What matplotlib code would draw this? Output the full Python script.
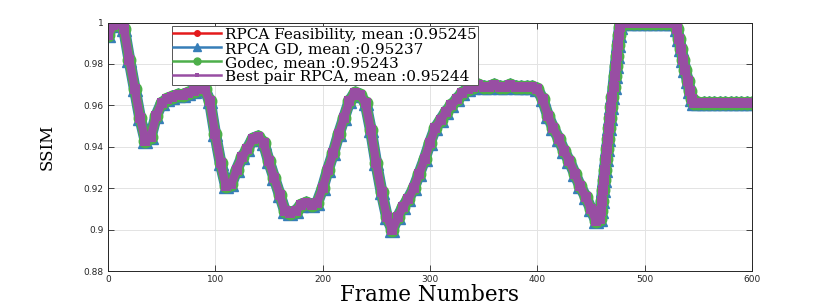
import numpy as np
import matplotlib
matplotlib.use('Agg')
import matplotlib.pyplot as plt

frames = [0, 5, 10, 15, 20, 25, 30, 35, 40, 45, 50, 55, 60, 65, 70, 75, 80, 85, 90, 95,
          100, 105, 110, 115, 120, 125, 130, 135, 140, 145, 150, 155, 160, 165, 170, 175,
          180, 185, 190, 195, 200, 205, 210, 215, 220, 225, 230, 235, 240, 245, 250, 255,
          260, 265, 270, 275, 280, 285, 290, 295, 300, 305, 310, 315, 320, 325, 330, 335,
          340, 345, 350, 355, 360, 365, 370, 375, 380, 385, 390, 395, 400, 405, 410, 415,
          420, 425, 430, 435, 440, 445, 450, 455,
          458, 459, 460, 461, 462, 463, 464, 465, 466, 467, 468, 469, 470, 471, 472, 473,
          474, 475, 476, 477, 478,
          485, 490, 495, 500, 505, 510, 515, 520, 525,
          528, 530, 532, 534, 536, 538, 540, 542, 544, 546,
          550, 555, 560, 565, 570, 575, 580, 585, 590, 595, 600]

ssim = [0.994, 0.999, 1.000, 0.997, 0.982, 0.968, 0.954, 0.943, 0.945, 0.955, 0.961, 0.963,
        0.964, 0.965, 0.965, 0.966, 0.967, 0.968, 0.968, 0.962,
        0.946, 0.932, 0.921, 0.922, 0.929, 0.935, 0.939, 0.944, 0.945, 0.942, 0.933, 0.925,
        0.917, 0.909, 0.908, 0.909,
        0.912, 0.913, 0.912, 0.913, 0.920, 0.929, 0.937, 0.946, 0.954, 0.962, 0.966, 0.965,
        0.961, 0.948, 0.932, 0.918,
        0.906, 0.900, 0.906, 0.911, 0.915, 0.920, 0.927, 0.934, 0.942, 0.949, 0.953, 0.957,
        0.960, 0.963, 0.966, 0.968,
        0.969, 0.970, 0.969, 0.969, 0.970, 0.969, 0.969, 0.970, 0.969, 0.969, 0.969, 0.969,
        0.968, 0.963, 0.955, 0.949,
        0.944, 0.938, 0.933, 0.927, 0.921, 0.916, 0.910, 0.904,
        0.905, 0.909, 0.914, 0.919, 0.924, 0.929, 0.934, 0.939, 0.944, 0.949, 0.954, 0.959,
        0.964, 0.969, 0.974, 0.979,
        0.984, 0.989, 0.994, 0.998, 1.000,
        1.000, 1.000, 1.000, 1.000, 1.000, 1.000, 1.000, 1.000, 1.000,
        1.000, 0.997, 0.992, 0.987, 0.982, 0.977, 0.972, 0.967, 0.963, 0.961,
        0.961, 0.961, 0.961, 0.961, 0.961, 0.961, 0.961, 0.961, 0.961, 0.961, 0.961]

# the four methods give practically the same curve
ssim_feas = ssim
ssim_gd = ssim
ssim_godec = ssim
ssim_best = ssim

labels = ['RPCA Feasibility, mean :0.95245',
          'RPCA GD, mean :0.95237',
          'Godec, mean :0.95243',
          'Best pair RPCA, mean :0.95244']

fig = plt.figure(figsize=(8.3, 3.05), dpi=100)
ax = fig.add_axes([0.130, 0.111, 0.776, 0.815])

ax.plot(frames, ssim_feas, color='#e41a1c', lw=1.5, marker='o', ms=4, label=labels[0])
ax.plot(frames, ssim_gd, color='#377eb8', lw=8.5, marker='^', ms=10, label=labels[1],
        solid_joinstyle='round')
ax.plot(frames, ssim_godec, color='#4daf4a', lw=7.5, marker='o', ms=9, label=labels[2],
        solid_joinstyle='round')
ax.plot(frames, ssim_best, color='#984ea3', lw=6, marker='s', ms=6.5, mew=0, label=labels[3],
        solid_joinstyle='round')

ax.set_xlim(0, 600)
ax.set_ylim(0.88, 1.0)
ax.set_xticks([0, 100, 200, 300, 400, 500, 600])
ax.set_yticks([0.88, 0.9, 0.92, 0.94, 0.96, 0.98, 1.0])
ax.set_yticklabels(['0.88', '0.9', '0.92', '0.94', '0.96', '0.98', '1'])
ax.tick_params(direction='in', top=True, right=True, length=4, width=0.6,
               labelsize=6.5, colors='#262626', pad=3)
ax.grid(True, color='#e3e3e3', lw=0.7)
ax.set_axisbelow(True)
for s in ax.spines.values():
    s.set_color('#262626')
    s.set_linewidth(0.7)

ax.set_xlabel('Frame Numbers', family='DejaVu Serif', fontsize=15.5, labelpad=0)
ax.set_ylabel('SSIM', family='DejaVu Serif', fontsize=12, labelpad=20)

leg = ax.legend(loc='upper left', bbox_to_anchor=(0.099, 0.985),
                prop={'family': 'DejaVu Serif', 'size': 11},
                fancybox=False, framealpha=1, edgecolor='#555555', borderpad=0.1,
                labelspacing=0.0, handlelength=3.1, handletextpad=0.3, borderaxespad=0)
leg.get_frame().set_linewidth(0.7)
legend_ms = [4, 6, 5, 3]
for h, m in zip(leg.legend_handles, legend_ms):
    h.set_linewidth(1.8)
    h.set_markersize(m)

fig.savefig('out.png', dpi=100)
